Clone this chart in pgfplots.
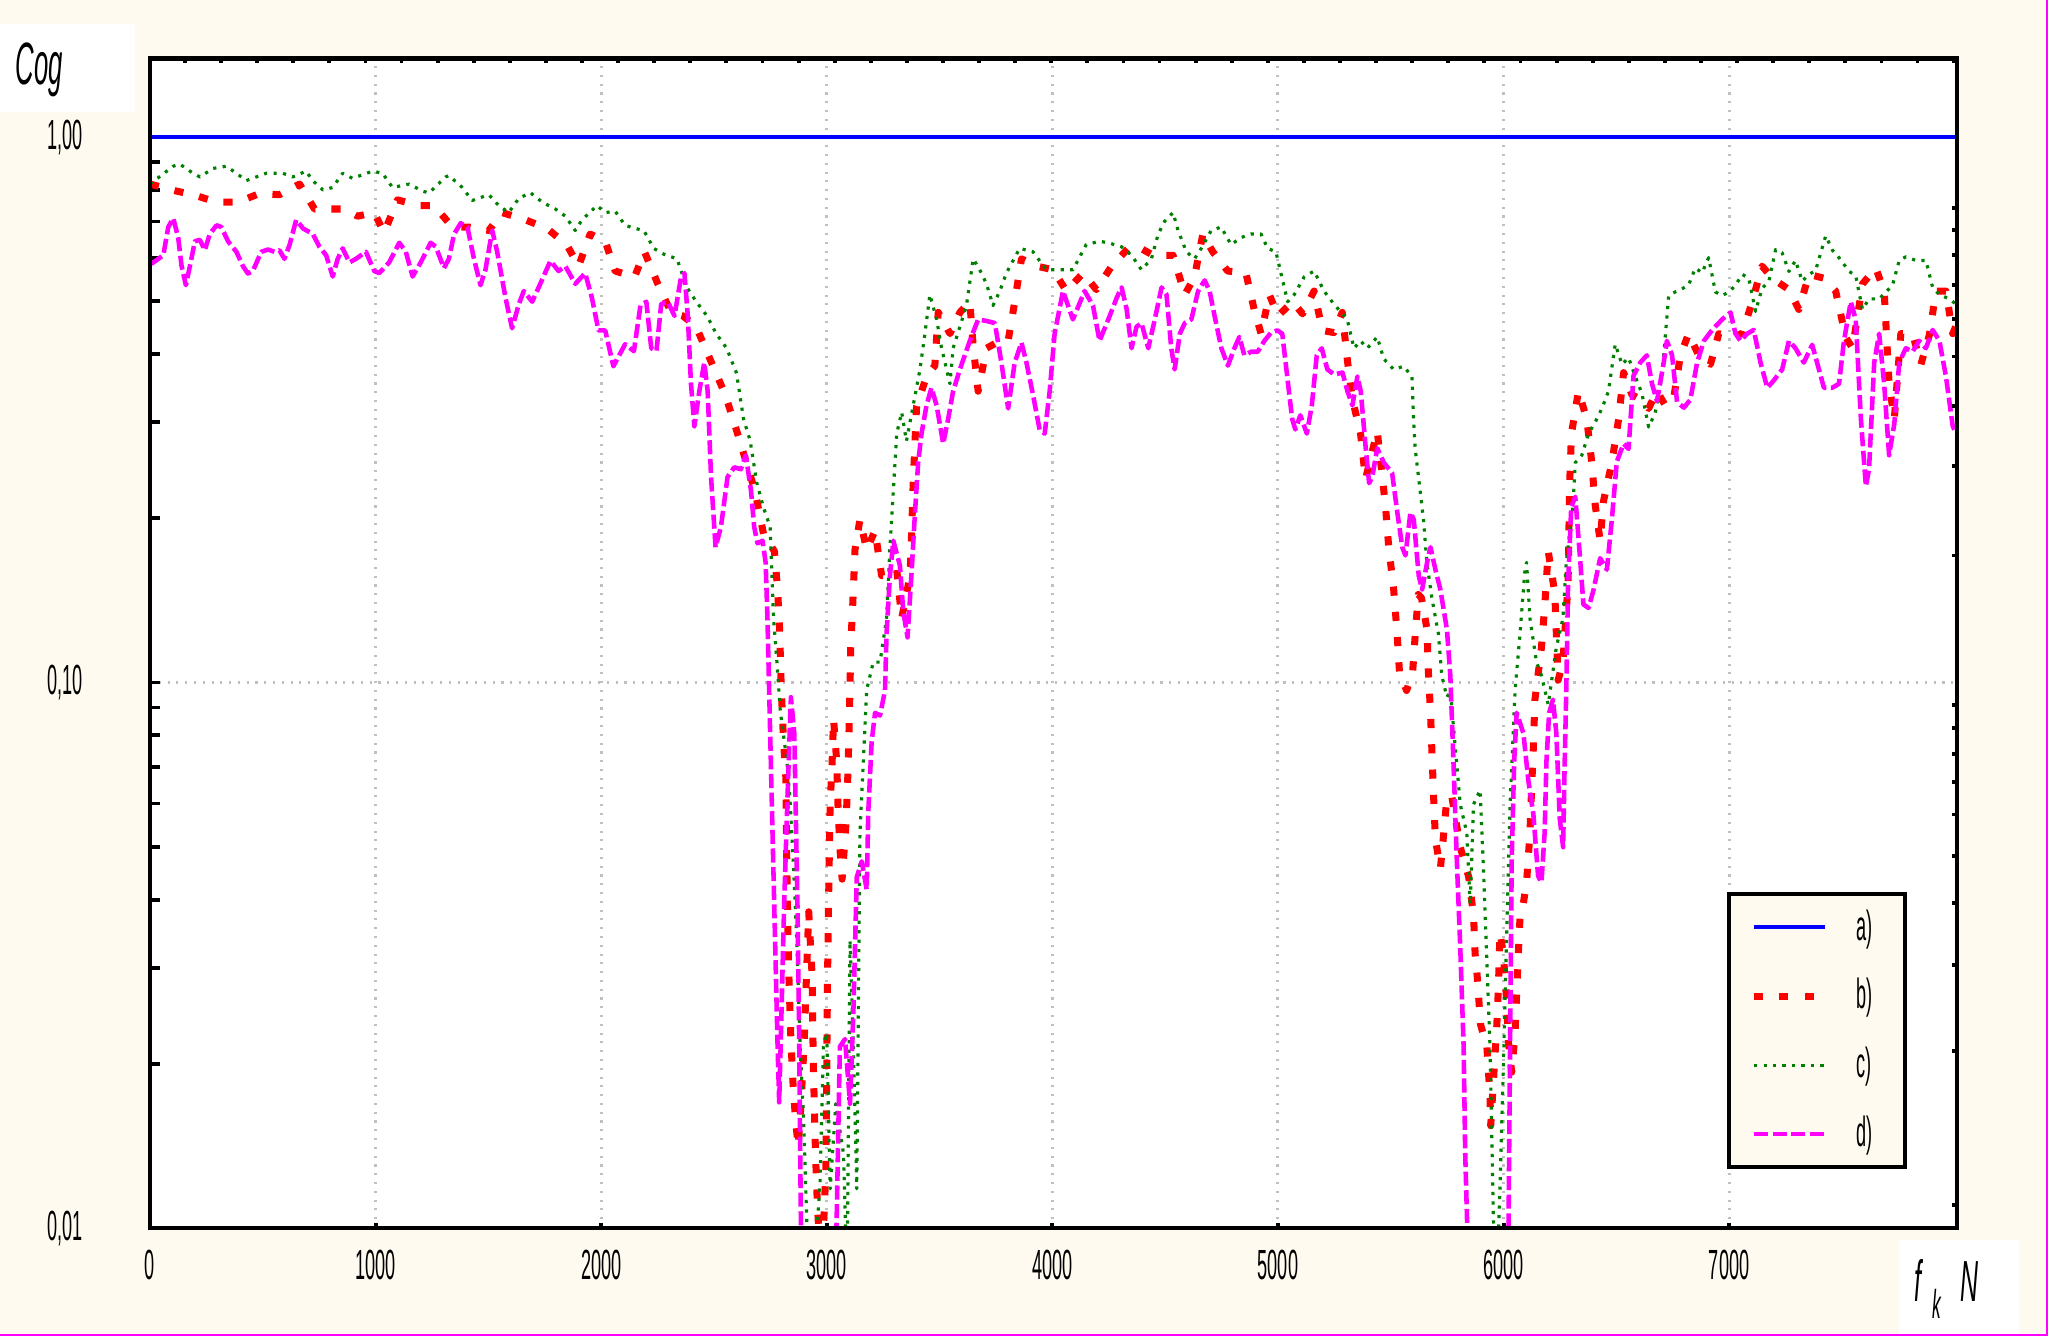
\documentclass[border=0pt]{standalone}
\usepackage{fontspec}
\setmainfont{Liberation Sans}
\newfontfamily\nf{Liberation Sans}[FakeStretch=0.43]
\usepackage{pgfplots}
\pgfplotsset{compat=1.18}
\definecolor{cream}{RGB}{255,250,240}
\definecolor{gridgray}{RGB}{192,192,192}
\definecolor{cgreen}{RGB}{0,128,0}
\definecolor{cmag}{RGB}{255,0,255}
\definecolor{cred}{RGB}{255,0,0}
\definecolor{cblue}{RGB}{0,0,255}
\begin{document}
\begin{tikzpicture}[x=1cm,y=1cm]
\fill[cream] (0,0) rectangle (20.48,13.36);
\fill[white] (0,12.24) rectangle (1.35,13.12);
\node[anchor=base west, inner sep=0pt] at (0.15,12.51) {\nf\itshape\fontsize{17}{17}\selectfont Cog};
\fill[white] (18.99,0) rectangle (20.19,0.96);
\node[anchor=base west, inner sep=0pt] at (19.14,0.34) {\nf\itshape\fontsize{16.5}{16.5}\selectfont f};
\node[anchor=base west, inner sep=0pt] at (19.32,0.17) {\nf\itshape\fontsize{11.5}{11.5}\selectfont k};
\node[anchor=base west, inner sep=0pt] at (19.60,0.34) {\nf\itshape\fontsize{16.5}{16.5}\selectfont N};
\draw[cmag, line width=0.6pt] (0,0.01) -- (20.47,0.01) -- (20.47,13.36);

\begin{axis}[
  at={(1.50cm,1.08cm)}, anchor=south west, scale only axis,
  width=18.07cm, height=11.695cm,
  xmin=0, xmax=8010, ymode=log, ymin=0.01, ymax=1.393,
  axis background/.style={fill=white},
  xtick={0,1000,...,7000}, xticklabels={0,1000,2000,3000,4000,5000,6000,7000},
  ytick={0.01,0.1,1}, yticklabels={{0,01},{0,10},{1,00}},
  minor ytick={},
  xtick pos=bottom, ytick pos=left, tick align=inside,
  major tick length=0.05cm,
  tick style={black, line width=1.1pt},
  grid=major, major grid style={gridgray, line width=0.85pt, dash pattern=on 0.6pt off 1.9pt},
  axis line style={black, line width=1.15pt},
  ticklabel style={font=\nf\fontsize{12}{12}\selectfont},
  yticklabel style={xshift=-0.55cm},
  xticklabel style={yshift=-0.1cm},
  legend style={at={(0.8727,0.2873)}, anchor=north west, draw=black, line width=1.15pt,
    fill=cream, inner xsep=0.215cm, inner ysep=0.155cm, row sep=0.33cm, column sep=0.275cm,
    nodes={inner sep=0pt, font=\nf\fontsize{12}{12}\selectfont}},
  legend cell align=left,
  legend image code/.code={\draw[#1] (0cm,0cm) -- (0.71cm,0cm);},
  every axis plot/.append style={line join=round},
]
\addplot[cblue, line width=1.15pt] coordinates {(0,1) (8010,1)};
\addlegendentry{\makebox[0.27cm][l]{a)}}

\addplot[cred, line width=2pt, dash pattern=on 2.6pt off 4.6pt] coordinates {
(0,0.820) (118,0.796) (191,0.784) (294,0.760) (390,0.760) (486,0.788) (574,0.784) (663,0.820) (729,0.738) (862,0.738) (920,0.716) (994,0.727) (1038,0.668) (1097,0.767) (1193,0.749) (1259,0.749) (1340,0.684) (1414,0.684) (1502,0.674) (1561,0.727) (1664,0.705) (1760,0.680) (1848,0.634) (1900,0.580) (1951,0.664) (2018,0.644) (2062,0.568) (2148,0.554) (2192,0.616) (2251,0.538) (2310,0.477) (2362,0.470) (2420,0.450) (2550,0.337) (2600,0.290) (2681,0.225) (2720,0.187) (2768,0.174) (2782,0.148) (2791,0.125) (2798,0.098) (2808,0.0785) (2819,0.0665) (2823,0.0454) (2830,0.0308) (2841,0.0221) (2850,0.0185) (2861,0.0159) (2873,0.0141) (2882,0.0159) (2899,0.0215) (2920,0.038) (2935,0.029) (2940,0.0202) (2950,0.0137) (2957,0.0114) (2975,0.008) (2996,0.0127) (3003,0.028) (3008,0.040) (3015,0.060) (3023,0.070) (3030,0.0858) (3044,0.0716) (3050,0.059) (3058,0.0499) (3068,0.0436) (3086,0.0558) (3093,0.067) (3098,0.0797) (3103,0.098) (3106,0.116) (3115,0.139) (3125,0.175) (3147,0.199) (3177,0.175) (3214,0.190) (3243,0.157) (3280,0.157) (3310,0.161) (3332,0.131) (3369,0.157) (3377,0.193) (3383,0.232) (3391,0.276) (3398,0.321) (3442,0.364) (3479,0.381) (3494,0.477) (3546,0.436) (3590,0.477) (3634,0.499) (3649,0.414) (3671,0.342) (3708,0.410) (3767,0.423) (3804,0.423) (3833,0.499) (3863,0.598) (3929,0.580) (4003,0.571) (4062,0.522) (4136,0.563) (4195,0.525) (4263,0.580) (4336,0.625) (4380,0.629) (4447,0.607) (4535,0.607) (4587,0.514) (4630,0.554) (4667,0.664) (4711,0.616) (4777,0.568) (4858,0.563) (4895,0.482) (4925,0.436) (4962,0.514) (5000,0.470) (5065,0.499) (5109,0.474) (5160,0.522) (5197,0.442) (5248,0.438) (5285,0.477) (5307,0.392) (5329,0.332) (5366,0.286) (5388,0.236) (5440,0.289) (5476,0.212) (5491,0.177) (5513,0.148) (5528,0.123) (5539,0.104) (5570,0.0967) (5597,0.1045) (5607,0.120) (5622,0.145) (5636,0.143) (5661,0.125) (5666,0.106) (5676,0.0885) (5683,0.0736) (5690,0.0616) (5698,0.0515) (5720,0.0456) (5735,0.053) (5749,0.0617) (5771,0.0617) (5808,0.0499) (5845,0.0441) (5867,0.0374) (5874,0.0318) (5883,0.0290) (5898,0.0236) (5926,0.0215) (5940,0.0174) (5943,0.0154) (5970,0.0235) (5977,0.0275) (5984,0.0348) (5999,0.0318) (6014,0.0260) (6021,0.0220) (6036,0.0193) (6051,0.0228) (6058,0.0270) (6065,0.0315) (6073,0.0372) (6087,0.0392) (6102,0.0430) (6117,0.0530) (6124,0.0635) (6132,0.0760) (6139,0.0930) (6168,0.116) (6183,0.139) (6198,0.174) (6227,0.146) (6242,0.101) (6263,0.109) (6286,0.152) (6293,0.232) (6301,0.286) (6332,0.342) (6369,0.304) (6391,0.253) (6406,0.212) (6428,0.182) (6443,0.215) (6480,0.253) (6510,0.304) (6532,0.370) (6569,0.337) (6598,0.332) (6643,0.318) (6680,0.342) (6717,0.322) (6754,0.332) (6784,0.398) (6820,0.436) (6865,0.398) (6917,0.383) (6954,0.436) (7013,0.430) (7058,0.436) (7102,0.499) (7146,0.580) (7191,0.551) (7265,0.525) (7309,0.483) (7354,0.560) (7420,0.551) (7472,0.522) (7517,0.429) (7547,0.410) (7591,0.538) (7650,0.575) (7687,0.522) (7709,0.353) (7732,0.304) (7761,0.436) (7813,0.436) (7850,0.383) (7887,0.433) (7917,0.522) (7961,0.522) (7991,0.436) (8005,0.450)
};
\addlegendentry{\makebox[0.27cm][l]{b)}}

\addplot[cgreen, line width=0.9pt, dash pattern=on 0.9pt off 1.8pt] coordinates {
(0,0.820) (103,0.884) (132,0.892) (191,0.858) (221,0.845) (280,0.876) (339,0.884) (383,0.858) (427,0.832) (515,0.858) (589,0.858) (633,0.845) (692,0.866) (721,0.832) (766,0.800) (810,0.808) (854,0.858) (898,0.840) (987,0.866) (1031,0.858) (1075,0.808) (1149,0.820) (1208,0.796) (1237,0.790) (1311,0.845) (1325,0.850) (1384,0.808) (1428,0.765) (1502,0.784) (1546,0.749) (1590,0.727) (1635,0.772) (1686,0.791) (1738,0.760) (1797,0.738) (1841,0.716) (1885,0.674) (1915,0.705) (1981,0.749) (2018,0.727) (2062,0.731) (2106,0.689) (2150,0.680) (2189,0.674) (2233,0.625) (2277,0.610) (2336,0.598) (2380,0.530) (2420,0.500) (2469,0.470) (2510,0.436) (2556,0.410) (2600,0.369) (2631,0.304) (2660,0.278) (2690,0.232) (2720,0.209) (2749,0.193) (2764,0.131) (2779,0.109) (2794,0.0886) (2823,0.072) (2838,0.060) (2853,0.0455) (2867,0.0337) (2882,0.0215) (2897,0.0159) (2912,0.0101) (2940,0.008) (2970,0.012) (2985,0.0215) (3000,0.0228) (3015,0.0118) (3040,0.0169) (3074,0.0137) (3090,0.008) (3103,0.0337) (3118,0.0215) (3133,0.0118) (3147,0.053) (3177,0.097) (3206,0.109) (3236,0.109) (3265,0.131) (3280,0.177) (3295,0.2245) (3310,0.286) (3332,0.313) (3353,0.277) (3383,0.322) (3413,0.375) (3435,0.436) (3457,0.514) (3487,0.463) (3509,0.410) (3546,0.353) (3560,0.410) (3590,0.449) (3619,0.491) (3649,0.598) (3678,0.571) (3708,0.538) (3737,0.491) (3767,0.522) (3796,0.563) (3855,0.625) (3914,0.616) (3973,0.571) (4032,0.571) (4091,0.571) (4150,0.635) (4209,0.644) (4248,0.640) (4307,0.629) (4351,0.607) (4395,0.571) (4439,0.598) (4469,0.664) (4498,0.701) (4535,0.727) (4557,0.674) (4594,0.616) (4630,0.598) (4660,0.625) (4704,0.674) (4748,0.684) (4792,0.635) (4836,0.654) (4880,0.664) (4925,0.664) (4954,0.625) (4991,0.616) (5013,0.563) (5043,0.499) (5072,0.514) (5116,0.554) (5160,0.568) (5204,0.522) (5248,0.494) (5307,0.463) (5337,0.410) (5366,0.423) (5396,0.410) (5440,0.430) (5469,0.392) (5513,0.375) (5557,0.380) (5594,0.364) (5601,0.304) (5608,0.269) (5623,0.238) (5645,0.199) (5660,0.166) (5682,0.143) (5711,0.123) (5726,0.103) (5749,0.094) (5764,0.0967) (5786,0.076) (5808,0.0598) (5837,0.053) (5852,0.0392) (5867,0.0598) (5896,0.0635) (5911,0.0454) (5926,0.0308) (5940,0.0215) (5955,0.0104) (5970,0.008) (5984,0.0118) (5999,0.0197) (6014,0.0348) (6029,0.0598) (6051,0.0967) (6073,0.123) (6095,0.161) (6102,0.166) (6117,0.131) (6146,0.109) (6168,0.103) (6198,0.0911) (6234,0.116) (6263,0.131) (6278,0.166) (6308,0.212) (6318,0.253) (6347,0.261) (6377,0.286) (6406,0.300) (6436,0.318) (6465,0.342) (6495,0.417) (6525,0.383) (6554,0.394) (6584,0.364) (6613,0.339) (6643,0.294) (6672,0.312) (6702,0.364) (6732,0.512) (6761,0.520) (6791,0.527) (6820,0.535) (6850,0.575) (6880,0.564) (6909,0.601) (6939,0.520) (6969,0.512) (6999,0.520) (7028,0.535) (7058,0.560) (7087,0.551) (7117,0.479) (7146,0.528) (7176,0.544) (7206,0.622) (7235,0.613) (7265,0.567) (7294,0.594) (7324,0.544) (7354,0.560) (7383,0.569) (7428,0.659) (7458,0.620) (7487,0.601) (7532,0.567) (7561,0.557) (7591,0.483) (7620,0.505) (7665,0.505) (7695,0.520) (7724,0.535) (7754,0.594) (7783,0.603) (7828,0.594) (7872,0.594) (7902,0.530) (7932,0.514) (7976,0.505) (8005,0.494)
};
\addlegendentry{\makebox[0.27cm][l]{c)}}

\addplot[cmag, line width=1.3pt, dash pattern=on 4pt off 1.3pt] coordinates {
(0,0.585) (15,0.589) (59,0.607) (81,0.684) (103,0.710) (125,0.654) (140,0.580) (159,0.535) (177,0.580) (199,0.644) (221,0.648) (243,0.620) (265,0.664) (295,0.689) (316,0.684) (346,0.644) (383,0.616) (412,0.580) (434,0.562) (456,0.568) (493,0.616) (523,0.622) (552,0.616) (574,0.620) (596,0.598) (619,0.635) (648,0.705) (678,0.680) (722,0.664) (751,0.629) (781,0.607) (810,0.555) (832,0.598) (854,0.625) (884,0.589) (913,0.598) (957,0.616) (994,0.568) (1016,0.563) (1060,0.589) (1105,0.640) (1134,0.616) (1164,0.555) (1200,0.589) (1244,0.640) (1267,0.629) (1303,0.575) (1325,0.598) (1348,0.664) (1377,0.695) (1407,0.684) (1436,0.598) (1465,0.535) (1487,0.571) (1517,0.674) (1539,0.616) (1576,0.507) (1605,0.446) (1635,0.494) (1657,0.522) (1694,0.499) (1730,0.538) (1775,0.593) (1811,0.568) (1841,0.580) (1885,0.538) (1929,0.563) (1959,0.507) (1988,0.442) (2018,0.442) (2054,0.380) (2106,0.417) (2145,0.405) (2174,0.491) (2200,0.499) (2222,0.410) (2245,0.405) (2266,0.494) (2295,0.499) (2325,0.470) (2354,0.554) (2369,0.563) (2384,0.470) (2398,0.353) (2413,0.295) (2435,0.342) (2457,0.386) (2472,0.342) (2487,0.238) (2507,0.177) (2531,0.193) (2560,0.238) (2590,0.248) (2619,0.246) (2641,0.261) (2664,0.225) (2678,0.193) (2693,0.180) (2715,0.182) (2729,0.166) (2737,0.131) (2752,0.0716) (2767,0.0392) (2782,0.0215) (2789,0.0170) (2797,0.0228) (2811,0.0392) (2826,0.0620) (2841,0.0940) (2856,0.0807) (2870,0.0392) (2878,0.0215) (2885,0.0104) (2900,0.006) (3030,0.006) (3044,0.0105) (3058,0.0215) (3081,0.0222) (3103,0.0169) (3118,0.0250) (3133,0.0440) (3155,0.0470) (3177,0.0417) (3184,0.0580) (3199,0.0780) (3214,0.0880) (3236,0.0870) (3258,0.0967) (3265,0.123) (3280,0.157) (3295,0.182) (3324,0.164) (3339,0.135) (3358,0.121) (3375,0.157) (3391,0.205) (3405,0.253) (3420,0.286) (3442,0.322) (3464,0.347) (3487,0.322) (3516,0.274) (3538,0.304) (3560,0.342) (3590,0.375) (3634,0.423) (3671,0.463) (3708,0.460) (3745,0.456) (3774,0.386) (3804,0.318) (3833,0.386) (3863,0.420) (3885,0.386) (3914,0.337) (3944,0.290) (3966,0.286) (3988,0.342) (4010,0.436) (4047,0.522) (4091,0.463) (4143,0.522) (4180,0.491) (4209,0.423) (4248,0.463) (4285,0.507) (4307,0.530) (4329,0.484) (4351,0.410) (4373,0.449) (4395,0.456) (4425,0.410) (4454,0.463) (4484,0.530) (4506,0.514) (4527,0.410) (4542,0.375) (4565,0.436) (4587,0.456) (4616,0.463) (4646,0.522) (4675,0.546) (4697,0.522) (4719,0.470) (4749,0.410) (4778,0.381) (4807,0.410) (4829,0.430) (4851,0.398) (4881,0.404) (4910,0.404) (4940,0.423) (4969,0.438) (4997,0.442) (5019,0.436) (5041,0.364) (5063,0.304) (5077,0.291) (5099,0.309) (5128,0.286) (5150,0.322) (5172,0.398) (5194,0.410) (5219,0.375) (5249,0.367) (5286,0.370) (5308,0.342) (5330,0.322) (5352,0.364) (5367,0.342) (5389,0.269) (5404,0.232) (5418,0.238) (5440,0.269) (5469,0.253) (5506,0.242) (5529,0.205) (5551,0.177) (5565,0.171) (5587,0.205) (5602,0.199) (5624,0.157) (5639,0.148) (5661,0.166) (5676,0.177) (5698,0.161) (5720,0.148) (5749,0.125) (5764,0.103) (5779,0.0695) (5793,0.047) (5808,0.0327) (5823,0.0215) (5830,0.0137) (5838,0.0104) (5850,0.006) (6010,0.006) (6022,0.0101) (6036,0.047) (6047,0.0716) (6058,0.088) (6088,0.0807) (6110,0.066) (6132,0.0574) (6153,0.0442) (6168,0.0430) (6182,0.053) (6190,0.0716) (6202,0.088) (6219,0.093) (6234,0.0807) (6249,0.0563) (6264,0.0499) (6271,0.0716) (6278,0.0967) (6286,0.152) (6300,0.210) (6318,0.219) (6340,0.167) (6354,0.139) (6377,0.137) (6399,0.148) (6428,0.169) (6458,0.161) (6480,0.199) (6502,0.254) (6532,0.274) (6554,0.268) (6576,0.365) (6606,0.386) (6635,0.398) (6658,0.353) (6680,0.328) (6710,0.386) (6724,0.423) (6747,0.398) (6769,0.327) (6799,0.319) (6828,0.330) (6858,0.386) (6888,0.423) (6925,0.443) (6969,0.463) (7006,0.477) (7028,0.436) (7050,0.423) (7080,0.436) (7109,0.443) (7139,0.386) (7169,0.347) (7198,0.358) (7235,0.375) (7265,0.423) (7294,0.410) (7331,0.386) (7368,0.416) (7398,0.375) (7420,0.347) (7457,0.347) (7487,0.353) (7509,0.423) (7539,0.499) (7561,0.463) (7584,0.304) (7606,0.229) (7620,0.246) (7643,0.386) (7665,0.436) (7687,0.353) (7709,0.261) (7732,0.298) (7754,0.386) (7783,0.410) (7813,0.404) (7842,0.423) (7872,0.410) (7902,0.443) (7932,0.423) (7961,0.364) (7991,0.295) (8005,0.287)
};
\addlegendentry{\makebox[0.27cm][l]{d)}}
\end{axis}

\begin{axis}[
  at={(1.50cm,1.08cm)}, anchor=south west, scale only axis,
  width=18.07cm, height=11.695cm,
  xmin=0, xmax=8010, ymode=log, ymin=0.01, ymax=1.393,
  xtick={155,315,...,7995}, xticklabels={},
  ytick={0.0110,0.0211,0.0304,0.0395,0.0481,0.0573,0.0656,0.074,0.0826,0.0908,0.171,0.249,0.321,0.396,0.464,0.536,0.608,0.676,0.74},
  yticklabels={}, minor ytick={},
  xtick pos=top, ytick pos=right, tick align=inside,
  major tick length=0.05cm,
  tick style={black, line width=1.1pt},
  axis line style={black, line width=1.15pt},
]
\end{axis}
\pgfresetboundingbox
\useasboundingbox (0,0) rectangle (20.48,13.36);
\end{tikzpicture}
\end{document}
